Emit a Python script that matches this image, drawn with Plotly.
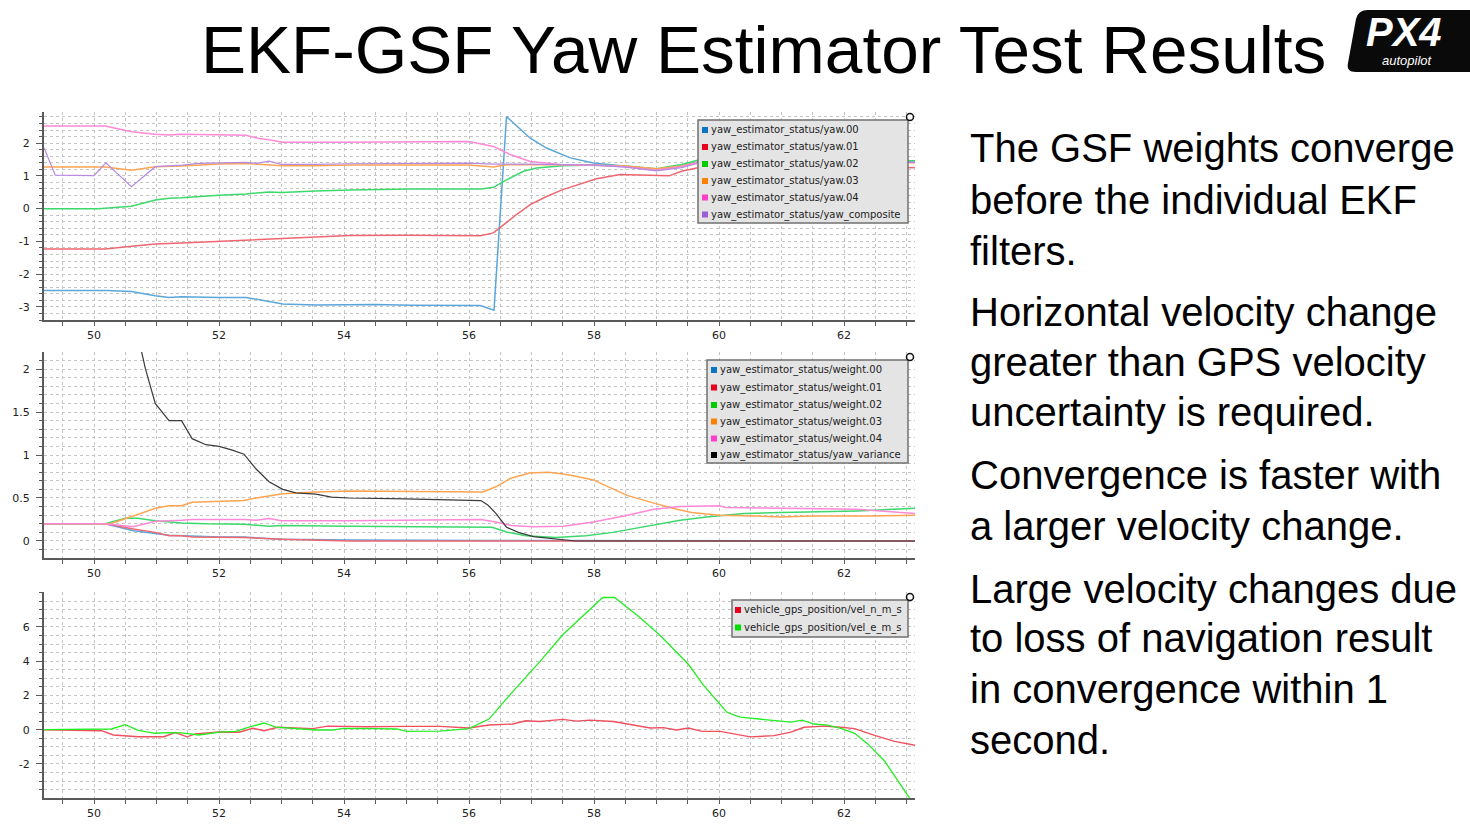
import plotly.graph_objects as go

W, H = 1470, 831

# ---------------- DATA ----------------
title_text = "EKF-GSF Yaw Estimator Test Results"
side_lines = [
    ["The GSF weights converge", "before the individual EKF", "filters."],
    ["Horizontal velocity change", "greater than GPS velocity", "uncertainty is required."],
    ["Convergence is faster with", "a larger velocity change."],
    ["Large velocity changes due", "to loss of navigation result", "in convergence within 1", "second."],
]

# Panel 1: yaw estimates (rad)
yaw00_t = [49.2, 50.2, 50.6, 50.98, 51.2, 51.4, 52.0, 52.43, 53.02, 53.55, 54.5, 55.06, 56.18, 56.40, 56.6, 56.98, 57.24, 57.62, 57.99, 58.42, 59.0, 59.4, 59.7, 60.5, 61.5, 62.5, 63.14]
yaw00_v = [-2.5, -2.5, -2.53, -2.66, -2.71, -2.69, -2.71, -2.71, -2.91, -2.94, -2.93, -2.95, -2.96, -3.1, 2.81, 2.15, 1.85, 1.55, 1.39, 1.31, 1.2, 1.3, 1.45, 1.47, 1.46, 1.45, 1.44]
yaw01_t = [49.2, 50.18, 50.6, 50.98, 51.4, 52.0, 52.64, 53.0, 53.55, 54.09, 55.0, 56.18, 56.39, 56.55, 56.76, 56.98, 57.24, 57.5, 57.78, 58.04, 58.42, 58.84, 59.2, 59.4, 59.64, 60.5, 61.5, 62.5, 63.14]
yaw01_v = [-1.23, -1.23, -1.15, -1.08, -1.05, -1.0, -0.95, -0.92, -0.88, -0.82, -0.81, -0.83, -0.74, -0.49, -0.18, 0.12, 0.37, 0.58, 0.76, 0.91, 1.04, 1.03, 1.0, 1.14, 1.24, 1.27, 1.28, 1.27, 1.25]
yaw02_t = [49.2, 50.07, 50.6, 50.98, 51.2, 51.4, 52.0, 52.43, 52.8, 53.0, 53.55, 54.09, 55.06, 56.0, 56.2, 56.39, 56.6, 56.87, 57.08, 57.5, 58.0, 58.5, 59.0, 59.4, 59.7, 60.5, 61.5, 62.5, 63.14]
yaw02_v = [0.0, 0.0, 0.07, 0.26, 0.32, 0.33, 0.41, 0.45, 0.51, 0.49, 0.54, 0.57, 0.6, 0.61, 0.6, 0.65, 0.88, 1.14, 1.24, 1.31, 1.33, 1.3, 1.22, 1.35, 1.5, 1.5, 1.48, 1.47, 1.46]
yaw03_t = [49.2, 50.18, 50.6, 50.98, 51.4, 52.0, 52.43, 53.02, 53.55, 54.09, 55.0, 56.0, 56.39, 56.6, 57.5, 58.0, 58.5, 59.0, 59.4, 59.7, 60.5, 61.5, 62.5, 63.14]
yaw03_v = [1.27, 1.27, 1.17, 1.28, 1.3, 1.36, 1.38, 1.31, 1.31, 1.33, 1.33, 1.33, 1.27, 1.34, 1.34, 1.33, 1.3, 1.22, 1.3, 1.42, 1.42, 1.41, 1.41, 1.4]
yaw04_t = [49.2, 50.18, 50.6, 50.98, 51.2, 51.4, 52.43, 52.64, 52.8, 53.02, 54.0, 56.0, 56.39, 56.66, 56.98, 57.5, 58.0, 58.5, 59.0, 59.4, 59.7, 60.5, 61.5, 62.5, 63.14]
yaw04_v = [2.52, 2.52, 2.35, 2.27, 2.25, 2.27, 2.24, 2.14, 2.1, 2.03, 2.03, 2.05, 1.9, 1.65, 1.44, 1.34, 1.33, 1.28, 1.17, 1.28, 1.42, 1.43, 1.43, 1.42, 1.41]
yawc_t = [49.2, 49.38, 50.0, 50.19, 50.6, 50.98, 51.41, 51.68, 52.43, 52.6, 52.8, 53.0, 53.55, 54.09, 56.0, 56.4, 57.0, 58.0, 58.5, 59.0, 59.4, 59.7, 60.5, 61.5, 62.5, 63.14]
yawc_v = [1.86, 1.02, 1.01, 1.40, 0.67, 1.28, 1.33, 1.38, 1.41, 1.38, 1.45, 1.35, 1.35, 1.37, 1.39, 1.36, 1.36, 1.33, 1.27, 1.15, 1.25, 1.4, 1.43, 1.43, 1.42, 1.41]

# Panel 2: weights and yaw variance
w00_t = [49.2, 50.18, 50.63, 50.98, 51.2, 52.0, 52.4, 53.0, 54.09, 56.2, 63.14]
w00_v = [0.2, 0.2, 0.12, 0.085, 0.066, 0.047, 0.045, 0.02, 0.01, 0.005, 0.0]
w01_t = [49.2, 50.18, 50.63, 50.98, 51.2, 51.4, 51.57, 52.4, 53.0, 54.09, 63.14]
w01_v = [0.2, 0.2, 0.14, 0.1, 0.06, 0.06, 0.045, 0.04, 0.02, 0.0, 0.0]
w02_t = [49.2, 50.18, 50.5, 50.7, 50.98, 51.4, 51.8, 52.4, 52.8, 53.0, 54.09, 54.98, 56.07, 56.37, 56.6, 56.91, 57.39, 57.87, 58.3, 58.6, 59.02, 59.38, 59.8, 60.4, 61.0, 62.21, 63.14]
w02_v = [0.2, 0.2, 0.265, 0.265, 0.235, 0.21, 0.2, 0.195, 0.17, 0.18, 0.17, 0.165, 0.155, 0.16, 0.105, 0.06, 0.04, 0.06, 0.1, 0.14, 0.2, 0.24, 0.28, 0.32, 0.33, 0.35, 0.38]
w03_t = [49.2, 50.26, 50.63, 50.98, 51.2, 51.4, 51.57, 52.0, 52.4, 52.6, 53.02, 53.55, 54.09, 56.22, 56.43, 56.67, 56.97, 57.27, 57.51, 57.69, 57.99, 58.23, 58.53, 58.96, 59.26, 59.56, 60.01, 60.58, 61.0, 61.49, 62.39, 63.14]
w03_v = [0.2, 0.2, 0.29, 0.38, 0.41, 0.41, 0.45, 0.46, 0.47, 0.5, 0.55, 0.57, 0.58, 0.57, 0.63, 0.73, 0.79, 0.8, 0.78, 0.755, 0.71, 0.63, 0.53, 0.44, 0.38, 0.33, 0.30, 0.29, 0.28, 0.29, 0.29, 0.3]
w04_t = [49.2, 50.18, 50.63, 50.98, 51.4, 51.57, 52.4, 52.6, 52.8, 53.0, 54.09, 55.58, 56.19, 56.43, 56.67, 57.03, 57.51, 57.99, 58.48, 58.96, 59.38, 60.01, 60.1, 61.0, 62.21, 63.14]
w04_v = [0.2, 0.2, 0.165, 0.23, 0.24, 0.25, 0.25, 0.24, 0.26, 0.235, 0.235, 0.25, 0.25, 0.22, 0.18, 0.165, 0.17, 0.22, 0.29, 0.37, 0.40, 0.41, 0.39, 0.38, 0.37, 0.32]
var_t = [50.55, 50.7, 50.82, 50.98, 51.2, 51.4, 51.57, 51.79, 52.0, 52.2, 52.4, 52.59, 52.8, 53.02, 53.23, 53.55, 53.8, 54.09, 54.98, 56.19, 56.3, 56.43, 56.6, 56.79, 57.03, 57.39, 57.7, 63.14]
var_v = [3.0, 2.4, 2.01, 1.6, 1.4, 1.4, 1.19, 1.12, 1.1, 1.06, 1.01, 0.84, 0.69, 0.6, 0.56, 0.545, 0.51, 0.5, 0.49, 0.47, 0.42, 0.32, 0.16, 0.1, 0.05, 0.02, 0.0, 0.0]

# Panel 3: GPS velocity (m/s)
ve_t = [49.2, 50.0, 50.28, 50.5, 50.71, 50.98, 51.2, 51.4, 51.68, 52.0, 52.27, 52.48, 52.72, 52.91, 53.29, 53.55, 53.82, 53.98, 54.52, 54.84, 55.0, 55.54, 56.0, 56.32, 56.7, 57.13, 57.5, 57.77, 58.14, 58.33, 58.73, 59.06, 59.51, 59.75, 60.13, 60.34, 60.77, 61.15, 61.33, 61.52, 61.74, 61.95, 62.17, 62.38, 62.65, 63.05]
ve_v = [0, 0, 0.04, 0.29, -0.04, -0.21, -0.17, -0.19, -0.31, -0.14, -0.1, 0.15, 0.39, 0.15, 0.06, -0.02, -0.02, 0.08, 0.06, 0.04, -0.1, -0.08, 0.06, 0.62, 2.22, 3.96, 5.54, 6.47, 7.72, 7.72, 6.56, 5.5, 3.82, 2.6, 1.0, 0.73, 0.58, 0.44, 0.56, 0.33, 0.27, 0.08, -0.21, -0.83, -1.83, -4.0]
vn_t = [49.2, 50.0, 50.12, 50.31, 50.71, 51.12, 51.3, 51.49, 51.62, 52.0, 52.32, 52.54, 52.72, 52.94, 53.5, 53.74, 54.36, 55.0, 55.54, 56.0, 56.32, 56.7, 56.91, 57.13, 57.5, 57.72, 57.93, 58.31, 58.52, 58.9, 59.11, 59.32, 59.51, 59.73, 60.02, 60.34, 60.5, 60.88, 61.15, 61.36, 61.68, 61.95, 62.17, 62.49, 62.81, 63.14]
vn_v = [0, -0.02, -0.06, -0.31, -0.41, -0.41, -0.17, -0.42, -0.25, -0.14, -0.15, 0.08, -0.06, 0.14, 0.06, 0.21, 0.17, 0.19, 0.19, 0.1, 0.27, 0.33, 0.52, 0.48, 0.6, 0.5, 0.56, 0.48, 0.35, 0.1, 0.12, -0.02, 0.1, -0.1, -0.1, -0.33, -0.42, -0.35, -0.14, 0.14, 0.21, 0.14, 0.06, -0.33, -0.68, -0.91]

names1 = ["yaw_estimator_status/yaw.00", "yaw_estimator_status/yaw.01", "yaw_estimator_status/yaw.02",
          "yaw_estimator_status/yaw.03", "yaw_estimator_status/yaw.04", "yaw_estimator_status/yaw_composite"]
names2 = ["yaw_estimator_status/weight.00", "yaw_estimator_status/weight.01", "yaw_estimator_status/weight.02",
          "yaw_estimator_status/weight.03", "yaw_estimator_status/weight.04", "yaw_estimator_status/yaw_variance"]
names3 = ["vehicle_gps_position/vel_n_m_s", "vehicle_gps_position/vel_e_m_s"]

x_ticks = [50, 52, 54, 56, 58, 60, 62]
y1_ticks = [-3, -2, -1, 0, 1, 2]
y1_text = ["-3", "-2", "-1", "0", "1", "2"]
y2_ticks = [0, 0.5, 1, 1.5, 2]
y2_text = ["0", "0.5", "1", "1.5", "2"]
y3_ticks = [-2, 0, 2, 4, 6]
y3_text = ["-2", "0", "2", "4", "6"]

logo_big = "PX4"
logo_small = "autopilot"

# ---------------- STYLE ----------------
line_cols = ["#5aa6d9", "#ef6670", "#3cd86c", "#ffa450", "#ff88d8", "#b68ae0"]
leg_cols = ["#0a75c2", "#e8001c", "#00cc00", "#ff8000", "#ff3fc8", "#9a5fd0"]
var_col = "#3a3a3a"
gps_line = ["#f0505e", "#22ee22"]
gps_leg = ["#e8001c", "#00e000"]


def fx(px):
    return px / W


def fy(py):
    return 1 - py / H


fig = go.Figure()

panel1 = [(yaw00_t, yaw00_v), (yaw01_t, yaw01_v), (yaw02_t, yaw02_v),
          (yaw03_t, yaw03_v), (yaw04_t, yaw04_v), (yawc_t, yawc_v)]
for i, (t, v) in enumerate(panel1):
    fig.add_trace(go.Scatter(x=t, y=v, mode="lines", name=names1[i], xaxis="x", yaxis="y",
                             line=dict(color=line_cols[i], width=1.5 if i < 5 else 1.2)))

panel2 = [(w00_t, w00_v), (w01_t, w01_v), (w02_t, w02_v), (w03_t, w03_v), (w04_t, w04_v)]
for i, (t, v) in enumerate(panel2):
    fig.add_trace(go.Scatter(x=t, y=v, mode="lines", name=names2[i], xaxis="x2", yaxis="y2",
                             line=dict(color=line_cols[i], width=1.5)))
fig.add_trace(go.Scatter(x=var_t, y=var_v, mode="lines", name=names2[5], xaxis="x2", yaxis="y2",
                         line=dict(color=var_col, width=1.2)))

fig.add_trace(go.Scatter(x=vn_t, y=vn_v, mode="lines", name=names3[0], xaxis="x3", yaxis="y3",
                         line=dict(color=gps_line[0], width=1.4)))
fig.add_trace(go.Scatter(x=ve_t, y=ve_v, mode="lines", name=names3[1], xaxis="x3", yaxis="y3",
                         line=dict(color=gps_line[1], width=1.3)))

grid_col = "#c4c4c4"
axis_col = "#5a5a5a"
tick_font = dict(family="DejaVu Sans", size=11, color="#222")

x_left, x_right = 44, 915
panels_px = [(112, 320), (352, 558), (592, 798)]
y_ranges = [[-3.4, 2.95], [-0.198, 2.198], [-3.99, 8.04]]
y_minor = [0.2, 0.1, 0.5]
y_tv = [(y1_ticks, y1_text), (y2_ticks, y2_text), (y3_ticks, y3_text)]

layout = dict(width=W, height=H, margin=dict(l=0, r=0, t=0, b=0),
              paper_bgcolor="white", plot_bgcolor="white", showlegend=False)

for k in range(3):
    sfx = "" if k == 0 else str(k + 1)
    top, bot = panels_px[k]
    layout["xaxis" + sfx] = dict(
        domain=[fx(x_left), fx(x_right)], anchor="y" + sfx, range=[49.2, 63.136],
        tickmode="array", tickvals=x_ticks, ticktext=[str(v) for v in x_ticks],
        ticks="outside", ticklen=4, tickcolor=axis_col, tickwidth=1,
        showline=True, linecolor=axis_col, linewidth=2, zeroline=False,
        showgrid=True, gridcolor=grid_col, griddash="dot", gridwidth=1,
        tickfont=tick_font,
        minor=dict(dtick=0.5, tick0=50, ticks="outside", ticklen=4, tickcolor=axis_col,
                   showgrid=True, gridcolor=grid_col, griddash="dot", gridwidth=1),
    )
    tv, tt = y_tv[k]
    layout["yaxis" + sfx] = dict(
        domain=[fy(bot), fy(top)], anchor="x" + sfx, range=y_ranges[k],
        tickmode="array", tickvals=tv, ticktext=tt,
        ticks="outside", ticklen=6, tickcolor=axis_col, tickwidth=1,
        showline=True, linecolor=axis_col, linewidth=2, zeroline=False,
        showgrid=True, gridcolor=grid_col, griddash="dot", gridwidth=1,
        tickfont=tick_font, ticklabelstandoff=4,
        minor=dict(dtick=y_minor[k], tick0=0, ticks="outside", ticklen=3, tickcolor=axis_col,
                   showgrid=True, gridcolor=grid_col, griddash="dot", gridwidth=1),
    )

fig.update_layout(**layout)

shapes = []
annotations = []


def legend_box(x0, y0, x1, y1, names, cols, row_y, sq_x, txt_x):
    shapes.append(dict(type="rect", xref="paper", yref="paper",
                       x0=fx(x0), x1=fx(x1), y0=fy(y1), y1=fy(y0),
                       fillcolor="#e4e4e4", line=dict(color="#707070", width=1.5), layer="above"))
    for i, n in enumerate(names):
        yc = row_y[i]
        shapes.append(dict(type="rect", xref="paper", yref="paper",
                           x0=fx(sq_x), x1=fx(sq_x + 6), y0=fy(yc + 3), y1=fy(yc - 3),
                           fillcolor=cols[i], line=dict(width=0), layer="above"))
        annotations.append(dict(text=n, x=fx(txt_x), y=fy(yc), xref="paper", yref="paper",
                                xanchor="left", yanchor="middle", showarrow=False,
                                font=dict(family="DejaVu Sans", size=10, color="#222")))


legend_box(698, 120, 908, 223, names1, leg_cols, [130, 147, 164, 181, 197.5, 214.5], 702, 708.5)
legend_box(707, 360, 908, 463, names2, leg_cols[:5] + ["#000000"], [370, 387.5, 405, 421.5, 438.5, 455], 711, 717.5)
legend_box(732, 600, 908, 637, names3, gps_leg, [610, 627.5], 735, 741.5)

for cy in [117, 357, 597]:
    shapes.append(dict(type="circle", xref="paper", yref="paper",
                       x0=fx(906.5), x1=fx(913.5), y0=fy(cy + 3.5), y1=fy(cy - 3.5),
                       line=dict(color="#111", width=1.5), fillcolor="white"))

# Title
annotations.append(dict(text=title_text, x=fx(763), y=fy(49), xref="paper", yref="paper",
                        xanchor="center", yanchor="middle", showarrow=False,
                        font=dict(family="Liberation Sans", size=67.5, color="#000")))

# Right-hand text
line_ys = [[148, 200, 251], [312, 362, 412], [475, 526], [589, 638, 689, 740]]
for para, ys in zip(side_lines, line_ys):
    for txt, yy in zip(para, ys):
        annotations.append(dict(text=txt, x=fx(968), y=fy(yy), xref="paper", yref="paper",
                                xanchor="left", yanchor="middle", showarrow=False,
                                font=dict(family="Liberation Sans", size=40, color="#000")))

# Logo
pts = "M {a},{b} L {c},{b} L {c},{d} L {e},{d} Q {f},{d} {g},{h} L {i},{j} Q {k},{b} {a},{b} Z"
logo_path = pts.format(a=fx(1368), b=fy(10), c=fx(1470), d=fy(72), e=fx(1356), f=fx(1346),
                       g=fx(1348), h=fy(63), i=fx(1356), j=fy(19), k=fx(1358))
shapes.append(dict(type="path", xref="paper", yref="paper", path=logo_path,
                   fillcolor="#0a0a0a", line=dict(width=0)))
annotations.append(dict(text=logo_big, x=fx(1364), y=fy(32), xref="paper", yref="paper",
                        xanchor="left", yanchor="middle", showarrow=False,
                        font=dict(family="Liberation Sans", size=40, color="white", weight="bold", style="italic")))
annotations.append(dict(text=logo_small, x=fx(1380), y=fy(60), xref="paper", yref="paper",
                        xanchor="left", yanchor="middle", showarrow=False,
                        font=dict(family="Liberation Sans", size=13, color="white", style="italic")))

fig.update_layout(shapes=shapes, annotations=annotations)
fig.write_html("out.html")
